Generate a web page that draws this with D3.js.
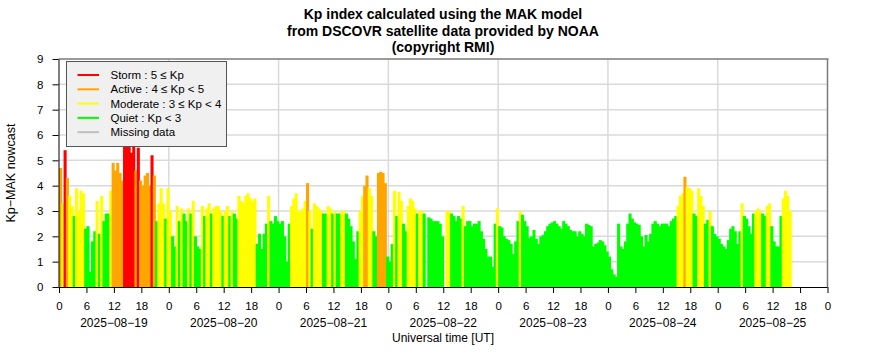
<!DOCTYPE html>
<html><head><meta charset="utf-8">
<script src="https://cdn.jsdelivr.net/npm/d3@7"></script>
<style>body{margin:0;background:#fff}svg{display:block}text{font-family:"Liberation Sans",Arial,Helvetica,sans-serif}</style>
</head><body>
<svg id="chart" width="886" height="360"></svg>
<script>
// Kp (MAK nowcast) at 30-minute steps, one array per UTC day
const days = ["2025-08-19","2025-08-20","2025-08-21","2025-08-22","2025-08-23","2025-08-24","2025-08-25"];
const kp0819 = [4.7,3.3,5.4,4.3,3.6,3.2,2.8,3.9,3.0,3.8,3.7,2.3,
  2.4,0.6,1.8,2.2,3.4,2.1,3.6,2.6,2.9,2.9,3.8,4.9,
  4.6,4.9,4.5,4.2,5.8,5.6,5.9,5.3,5.7,4.6,5.5,4.2,
  4.0,4.4,4.5,4.0,5.2,4.4,2.6,3.3,3.9,3.3,2.7,3.9];
const kp0820 = [3.0,2.0,1.6,3.2,2.6,3.1,2.9,2.6,3.1,2.9,3.4,2.0,
  1.6,1.5,3.2,2.8,3.1,3.3,2.9,3.1,3.2,3.2,3.0,2.8,
  3.0,3.2,2.8,3.0,2.9,2.7,3.6,3.4,3.3,3.6,3.7,3.5,
  3.4,3.5,1.7,2.1,1.5,2.1,2.5,3.6,2.6,2.5,2.8,2.6];
const kp0821 = [2.5,2.6,2.0,1.0,2.5,3.2,3.5,3.7,3.0,3.0,3.1,3.4,
  4.1,3.0,2.3,3.3,3.2,3.1,3.0,2.9,2.9,3.2,3.1,2.9,
  3.0,2.9,2.9,3.0,3.0,2.9,2.7,2.4,1.8,1.1,2.2,3.0,
  3.6,4.0,4.4,3.9,3.6,2.2,2.0,4.5,4.55,4.5,4.1,1.2];
const kp0822 = [1.0,1.7,3.8,2.8,3.75,3.4,2.5,2.2,3.2,3.5,3.4,3.1,
  2.9,3.0,3.0,2.9,null,2.75,2.7,2.6,2.6,2.6,2.5,2.0,
  null,3.0,3.0,2.9,2.8,2.6,2.8,2.7,3.2,2.4,2.6,2.6,
  2.4,2.5,2.5,2.6,2.2,1.9,1.5,1.2,1.2,0.8,2.5,3.1];
const kp0823 = [2.4,2.35,2.0,1.9,1.85,1.7,1.3,1.8,2.6,3.0,2.85,2.6,
  2.4,1.95,2.0,2.25,1.9,1.7,2.0,2.05,2.2,2.4,2.5,2.55,
  2.6,2.5,2.4,2.3,2.6,2.5,2.4,2.25,2.2,2.2,2.0,2.2,
  2.1,2.0,2.5,2.45,2.4,1.6,1.7,1.75,1.85,1.8,1.65,1.4];
const kp0824 = [1.2,0.7,0.5,0.4,2.5,1.6,1.5,1.8,2.5,2.9,2.7,2.55,
  2.5,2.45,2.0,1.6,2.05,1.8,2.1,2.5,2.6,2.5,2.4,2.5,
  2.5,2.5,2.4,2.6,2.7,2.8,3.2,3.6,3.7,4.35,3.95,3.9,
  3.8,2.9,2.8,3.9,3.6,3.2,2.5,2.65,3.0,2.4,2.1,2.0];
const kp0825 = [1.9,1.7,1.6,1.5,1.85,2.3,2.4,2.2,1.7,2.2,3.3,2.8,
  2.7,2.4,2.1,2.9,3.0,3.1,3.0,2.9,2.8,3.2,3.3,2.4,
  1.8,1.6,1.6,2.8,3.5,3.8,3.6,3.0];
const dayValues = [kp0819,kp0820,kp0821,kp0822,kp0823,kp0824,kp0825];
const stepMinutes = 30;

const yTicks = [0,1,2,3,4,5,6,7,8,9];
const titleLines = ["Kp index calculated using the MAK model","from DSCOVR satellite data provided by NOAA","(copyright RMI)"];
const legendLabels = ["Storm : 5 \u2264 Kp","Active : 4 \u2264 Kp < 5","Moderate : 3 \u2264 Kp < 4","Quiet : Kp < 3","Missing data"];
const legendColors = ["#ff0000","#ffa500","#ffff00","#00ff00","#bebebe"];

const svg = d3.select("#chart");
const L = 58.5, R = 827.5, T = 59, B = 287;
const t0 = new Date(Date.UTC(2025,7,19)), t1 = new Date(Date.UTC(2025,7,26));
const x = d3.scaleUtc().domain([t0,t1]).range([59,827.5]);
const y = d3.scaleLinear().domain([0,9]).range([B,T]);

// build records
const rows = [];
days.forEach((d,i) => {
  const start = new Date(d + "T00:00:00Z");
  dayValues[i].forEach((v,k) => {
    if (v == null) return;
    const ts = new Date(start.getTime() + k*stepMinutes*60000);
    rows.push({t: ts, t2: new Date(ts.getTime()+stepMinutes*60000), v});
  });
});
const colorOf = v => v >= 5 ? legendColors[0] : v >= 4 ? legendColors[1] : v >= 3 ? legendColors[2] : legendColors[3];

// grid
const grid = svg.append("g");
grid.selectAll("line.h").data(yTicks.filter(v => v>0 && v<9)).join("line")
  .attr("x1",L).attr("x2",R).attr("y1",d=>y(d)).attr("y2",d=>y(d))
  .attr("stroke","#dadada").attr("stroke-width",1.5);
const dayBounds = d3.utcDay.range(d3.utcDay.offset(t0,1), t1);
grid.selectAll("line.v").data(dayBounds).join("line")
  .attr("x1",d=>x(d)).attr("x2",d=>x(d)).attr("y1",T).attr("y2",B)
  .attr("stroke","#dadada").attr("stroke-width",1.5);

// bars
svg.append("g").selectAll("rect").data(rows).join("rect")
  .attr("x", d => x(d.t))
  .attr("width", d => x(d.t2) - x(d.t) + 0.8)
  .attr("y", d => y(d.v))
  .attr("height", d => y(0) - y(d.v))
  .attr("fill", d => colorOf(d.v));

// frame (top & right)
svg.append("line").attr("x1",L).attr("x2",R+1).attr("y1",T).attr("y2",T).attr("stroke","#7a7a7a").attr("stroke-width",1.5);
svg.append("line").attr("x1",R).attr("x2",R).attr("y1",T).attr("y2",B).attr("stroke","#7a7a7a").attr("stroke-width",1.5);

// x axis
const xTickVals = d3.utcHour.every(6).range(t0, d3.utcHour.offset(t1,1));
const xAxis = d3.axisBottom(x).tickValues(xTickVals).tickSize(6).tickSizeOuter(0).tickPadding(9)
  .tickFormat(d => String(d.getUTCHours()));
const gx = svg.append("g").attr("transform",`translate(0,${B})`).call(xAxis);
gx.select(".domain").attr("stroke","#000").attr("d",`M${L},0.5H${R}`);
gx.selectAll("text").attr("font-size",11.5).attr("fill","#000");
gx.selectAll("line").attr("stroke","#000");

// date labels
svg.append("g").selectAll("text").data(days).join("text")
  .attr("x", d => x(new Date(d+"T12:00:00Z"))).attr("y",327)
  .attr("text-anchor","middle").attr("font-size",12)
  .text(d => d.replace(/-/g,"\u2212"));
svg.append("text").attr("x",(L+R)/2).attr("y",342).attr("text-anchor","middle").attr("font-size",12)
  .text("Universal time [UT]");

// y axis
const gy = svg.append("g").attr("transform",`translate(${L},0)`)
  .call(d3.axisLeft(y).tickValues(yTicks).tickSize(6).tickSizeOuter(0).tickPadding(9).tickFormat(d3.format("d")));
gy.select(".domain").attr("stroke","#000");
gy.selectAll("text").attr("font-size",11.5).attr("fill","#000");
svg.append("text").attr("transform","translate(15,173) rotate(-90)").attr("text-anchor","middle")
  .attr("font-size",12.5).text("Kp\u2212MAK nowcast");

// title
svg.append("g").selectAll("text").data(titleLines).join("text")
  .attr("x",443).attr("y",(d,i)=>19+i*16.5).attr("text-anchor","middle")
  .attr("font-size",14).attr("font-weight","bold").text(d=>d);

// legend
const lg = svg.append("g");
lg.append("rect").attr("x",66.5).attr("y",61.5).attr("width",160).attr("height",85)
  .attr("fill","#f0f0f0").attr("stroke","#555").attr("stroke-width",1);
const li = lg.selectAll("g").data(legendLabels).join("g")
  .attr("transform",(d,i)=>`translate(0,${75+i*14.3})`);
li.append("line").attr("x1",77.5).attr("x2",99).attr("y1",0).attr("y2",0)
  .attr("stroke",(d,i)=>legendColors[i]).attr("stroke-width",2);
li.append("text").attr("x",110.5).attr("y",4).attr("font-size",11.5).text(d=>d);
</script>
</body></html>
